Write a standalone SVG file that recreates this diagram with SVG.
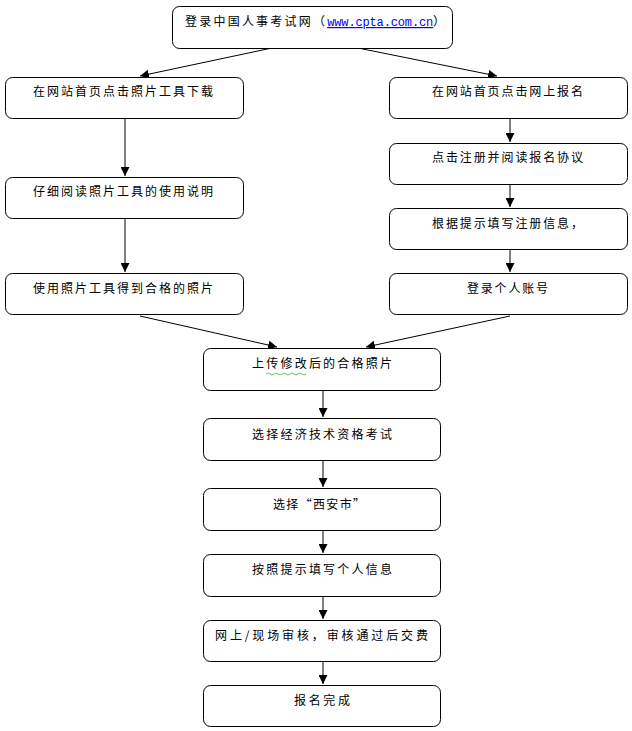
<svg xmlns="http://www.w3.org/2000/svg" width="632" height="731" viewBox="0 0 632 731">
<defs>
<marker id="ah" viewBox="0 0 10 10" refX="10" refY="5" markerWidth="9" markerHeight="9" markerUnits="userSpaceOnUse" orient="auto">
<path d="M0,0 L10,5 L0,10 z" fill="#000"/>
</marker>
<style>
.box{fill:#fff;stroke:#000;stroke-width:1}
.t{font-family:"Noto Sans CJK SC","Noto Sans",sans-serif;font-size:12px;fill:#000}
.c{stroke:#000;stroke-width:1;fill:none;marker-end:url(#ah)}
.u{font-family:"Liberation Mono",monospace;fill:#0000ff;text-decoration:underline}
</style>
</defs>
<rect width="632" height="731" fill="#fff"/>
<g id="connectors">
<line class="c" x1="272" y1="48" x2="140" y2="76"/>
<line class="c" x1="358" y1="48" x2="497" y2="76"/>
<line class="c" x1="125" y1="119" x2="125" y2="176"/>
<line class="c" x1="125" y1="219" x2="125" y2="272"/>
<line class="c" x1="510" y1="119" x2="510" y2="142"/>
<line class="c" x1="510" y1="185" x2="510" y2="207"/>
<line class="c" x1="510" y1="250" x2="510" y2="272"/>
<line class="c" x1="140" y1="316" x2="277" y2="347"/>
<line class="c" x1="510" y1="316" x2="366" y2="347"/>
<line class="c" x1="323" y1="391" x2="323" y2="417"/>
<line class="c" x1="323" y1="461" x2="323" y2="487"/>
<line class="c" x1="323" y1="531" x2="323" y2="553"/>
<line class="c" x1="323" y1="597" x2="323" y2="619"/>
<line class="c" x1="323" y1="662" x2="323" y2="684"/>
</g>
<g id="n0"><rect class="box" x="172.5" y="6.5" width="280" height="42" rx="7"/>
<text class="t" x="185" y="26"><tspan textLength="140" lengthAdjust="spacing">登录中国人事考试网（</tspan><tspan class="u" font-size="12" textLength="106" lengthAdjust="spacing">www.cpta.com.cn</tspan><tspan>）</tspan></text></g>
<g id="n1"><rect class="box" x="5.5" y="77.5" width="238" height="41" rx="7"/>
<text class="t" x="33" y="96" textLength="180" lengthAdjust="spacing">在网站首页点击照片工具下载</text></g>
<g id="n2"><rect class="box" x="5.5" y="177.5" width="238" height="41" rx="7"/>
<text class="t" x="33" y="196" textLength="180" lengthAdjust="spacing">仔细阅读照片工具的使用说明</text></g>
<g id="n3"><rect class="box" x="5.5" y="273.5" width="238" height="41" rx="7"/>
<text class="t" x="33" y="293" textLength="180" lengthAdjust="spacing">使用照片工具得到合格的照片</text></g>
<g id="n4"><rect class="box" x="389.5" y="77.5" width="238" height="41" rx="7"/>
<text class="t" x="432" y="96" textLength="151" lengthAdjust="spacing">在网站首页点击网上报名</text></g>
<g id="n5"><rect class="box" x="389.5" y="143.5" width="238" height="41" rx="7"/>
<text class="t" x="432" y="162" textLength="151" lengthAdjust="spacing">点击注册并阅读报名协议</text></g>
<g id="n6"><rect class="box" x="389.5" y="208.5" width="238" height="41" rx="7"/>
<text class="t" x="432" y="228" textLength="151" lengthAdjust="spacing">根据提示填写注册信息，</text></g>
<g id="n7"><rect class="box" x="389.5" y="273.5" width="238" height="41" rx="7"/>
<text class="t" x="467" y="293" textLength="81" lengthAdjust="spacing">登录个人账号</text></g>
<g id="n8"><rect class="box" x="203.5" y="348.5" width="237" height="42" rx="7"/>
<text class="t" x="252" y="368" textLength="140" lengthAdjust="spacing">上传修改后的合格照片</text>
<path d="M266,374 q2,-2 4,0 t4,0 t4,0 t4,0 t4,0 t4,0 t4,0 t4,0 t4,0 t4,0" stroke="#3cb43c" stroke-width="0.8" fill="none"/></g>
<g id="n9"><rect class="box" x="203.5" y="418.5" width="237" height="42" rx="7"/>
<text class="t" x="252" y="439" textLength="140" lengthAdjust="spacing">选择经济技术资格考试</text></g>
<g id="n10"><rect class="box" x="203.5" y="488.5" width="237" height="42" rx="7"/>
<text class="t" x="273" y="509" textLength="92" lengthAdjust="spacing">选择“西安市”</text></g>
<g id="n11"><rect class="box" x="203.5" y="554.5" width="237" height="42" rx="7"/>
<text class="t" x="252" y="574" textLength="140" lengthAdjust="spacing">按照提示填写个人信息</text></g>
<g id="n12"><rect class="box" x="203.5" y="620.5" width="237" height="41" rx="7"/>
<text class="t" x="215" y="640" textLength="213" lengthAdjust="spacing">网上/现场审核，审核通过后交费</text></g>
<g id="n13"><rect class="box" x="203.5" y="685.5" width="237" height="41" rx="7"/>
<text class="t" x="294" y="705" textLength="56" lengthAdjust="spacing">报名完成</text></g>
</svg>
